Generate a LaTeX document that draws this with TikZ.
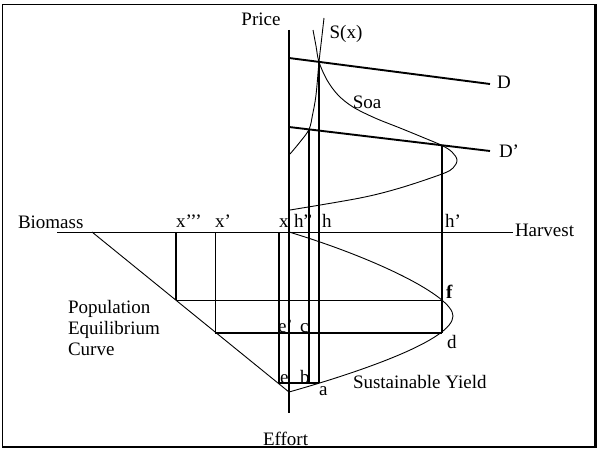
\documentclass[tikz,border=0pt]{standalone}
\usepackage{fontspec}
\setmainfont{Liberation Serif}
\begin{document}
\begin{tikzpicture}[x=1pt,y=-1pt,
  thinln/.style={line width=0.9pt},
  thickln/.style={line width=1.9pt},
  lbl/.style={font=\fontsize{19}{21}\selectfont, inner sep=0pt, outer sep=0pt, anchor=base west}]
\useasboundingbox (0,0) rectangle (599,452);

% frame
\coordinate (ftl) at (2.7,4.3);
\coordinate (ftr) at (595.5,4.3);
\coordinate (fbr) at (595.5,447);
\coordinate (fbl) at (2.7,447);
\draw[line width=1pt] (ftl) rectangle (fbr);
\draw[line width=2.6pt] (ftr) -- (fbr) -- (fbl);

% key points
\coordinate (Ptop) at (289,30);
\coordinate (Ebot) at (289,413);
\coordinate (Bl) at (57,232);
\coordinate (Hr) at (513,232);
\coordinate (O) at (289,392);
\coordinate (Dg) at (92,232);
\coordinate (x3t) at (176,232);
\coordinate (x3b) at (176,300);
\coordinate (x1t) at (215,232);
\coordinate (x1b) at (215,333);
\coordinate (x0t) at (279,232);
\coordinate (x0b) at (279,383);
\coordinate (h2t) at (309,129.4);
\coordinate (h2b) at (309,383);
\coordinate (h0t) at (319,62);
\coordinate (h0b) at (319,383);
\coordinate (h1t) at (442,145.5);
\coordinate (h1b) at (442,333);
\coordinate (fR) at (442,300);
\coordinate (D1) at (289,58);
\coordinate (D2) at (490,84);
\coordinate (Dp1) at (289,127);
\coordinate (Dp2) at (490,151);

% axes
\draw[thickln] (Ptop) -- (Ebot);
\draw[thinln] (Bl) -- (Hr);

% demand lines
\draw[thickln] (D1) -- (D2);
\draw[thickln] (Dp1) -- (Dp2);

% supply curves
\draw[thinln] plot[smooth, tension=0.6] coordinates {(324,18) (321.5,40) (319,62) (316,95) (312.5,115) (309,129.4) (300,142) (290,154)};
\draw[thinln] plot[smooth, tension=0.55] coordinates {(313,30) (316,46) (319,62) (327,80) (338,95) (353,107) (375,118) (400,128) (422,137) (442,145.5) (452,152) (457,160) (453,168) (442,174) (400,188) (360,198) (290,210)};

% sustainable yield curve
\draw[thinln] (x0t -| Ptop) .. controls (375,258) and (453,296) .. (453,316) .. controls (453,340) and (360,372) .. (O);

% population equilibrium curve
\draw[thinln] (Dg) -- (O);

% verticals
\draw[thickln] (x3t) -- (x3b);
\draw[thinln] (x1t) -- (x1b);
\draw[thickln] (x0t) -- (x0b);
\draw[thickln] (h2t) -- (h2b);
\draw[thickln] (h0t) -- (h0b);
\draw[thickln] (h1t) -- (h1b);

% horizontals
\draw[thinln] (x3b) -- (fR);
\draw[thickln] (x1b) -- (h1b);
\draw[thickln] (x0b) -- (h0b);

% labels
\node[lbl, anchor=base] (lPrice) at (261,26) {Price};
\node[lbl, anchor=base] (lSx) at (346,38) {S(x)};
\node[lbl, anchor=base] (lSoa) at (367,108) {Soa};
\node[lbl] (lD) at (497,88) {D};
\node[lbl] (lDp) at (499,157) {D’};
\node[lbl] (lBio) at (18,228) {Biomass};
\node[lbl] (lx3) at (176,227) {x’’’};
\node[lbl] (lx1) at (215,227) {x’};
\node[lbl] (lx0) at (279,227) {x};
\node[lbl] (lh2) at (294,227) {h”};
\node[lbl] (lh0) at (322,227) {h};
\node[lbl] (lh1) at (445,227) {h’};
\node[lbl] (lHar) at (515,236) {Harvest};
\node[lbl] (lPop) at (68,313) {Population};
\node[lbl] (lEq) at (68,334) {Equilibrium};
\node[lbl] (lCur) at (68,355) {Curve};
\node[lbl] (lep) at (278,332) {e’};
\node[lbl] (lc) at (300,332) {c};
\node[lbl] (lf) at (446,298) {\bfseries f};
\node[lbl] (ld) at (447,348) {d};
\node[lbl] (le) at (280,383) {e};
\node[lbl] (lb) at (300,383) {b};
\node[lbl] (la) at (319,395) {a};
\node[lbl] (lSY) at (353,388) {Sustainable Yield};
\node[lbl] (lEff) at (263,445) {Effort};
\end{tikzpicture}
\end{document}
